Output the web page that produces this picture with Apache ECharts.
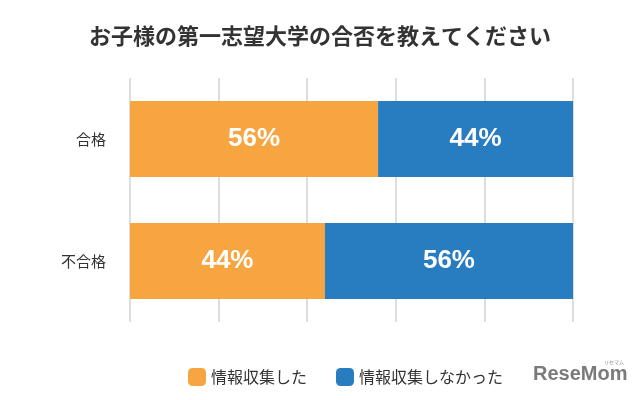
<!DOCTYPE html>
<html><head><meta charset="utf-8">
<script src="https://cdn.jsdelivr.net/npm/echarts@6/dist/echarts.min.js"></script>
<style>html,body{margin:0;padding:0;background:#fff}#c{width:640px;height:400px}</style>
</head><body><div id="c"></div>
<script>
var categories = ['合格', '不合格'];
var seriesNames = ['情報収集した', '情報収集しなかった'];
var collected = [56, 44];
var notCollected = [44, 56];
var xTicks = [0, 20, 40, 60, 80, 100];

var chart = echarts.init(document.getElementById('c'), null, {renderer: 'canvas'});
var font = '"Noto Sans CJK JP", "Noto Sans", sans-serif';
var labelCfg = {
  show: true, position: 'inside', color: '#fff', fontSize: 26, fontWeight: 'bold',
  fontFamily: '"Liberation Sans", Arial, sans-serif',
  formatter: function (p) { return p.value + '%'; }
};
chart.setOption({
  animation: false,
  backgroundColor: '#fff',
  title: {
    text: 'お子様の第一志望大学の合否を教えてください',
    left: 'center', top: 20,
    textStyle: {fontSize: 22, fontWeight: 'bold', color: '#333', fontFamily: font}
  },
  legend: {
    data: seriesNames, left: 183, top: 363,
    itemWidth: 18, itemHeight: 18, itemGap: 29,
    textStyle: {fontSize: 16, color: '#333', fontFamily: font}
  },
  grid: {left: 130, right: 67, top: 78, bottom: 78},
  xAxis: {
    type: 'value', min: xTicks[0], max: xTicks[xTicks.length - 1], interval: 20,
    axisLabel: {show: false}, axisLine: {show: false}, axisTick: {show: false},
    splitLine: {show: true, lineStyle: {color: '#dedede', width: 2}}
  },
  yAxis: {
    type: 'category', data: categories, inverse: true,
    axisLine: {show: false}, axisTick: {show: false},
    axisLabel: {fontSize: 15, color: '#333', margin: 24, fontFamily: font}
  },
  series: [
    {name: seriesNames[0], type: 'bar', stack: 'a', data: collected, barWidth: 76,
     itemStyle: {color: '#F7A541'}, label: labelCfg},
    {name: seriesNames[1], type: 'bar', stack: 'a', data: notCollected, barWidth: 76,
     itemStyle: {color: '#287DC0'}, label: labelCfg}
  ],
  graphic: [
    {type: 'text', left: 533, top: 364, style: {text: 'ReseMom', fontSize: 20, fontWeight: 'bold', fill: '#7a7a7a', fontFamily: '"Liberation Sans", Arial, sans-serif'}},
    {type: 'text', left: 604, top: 360, style: {text: 'リセマム', fontSize: 5, fill: '#888', fontFamily: font}}
  ]
});
</script></body></html>
